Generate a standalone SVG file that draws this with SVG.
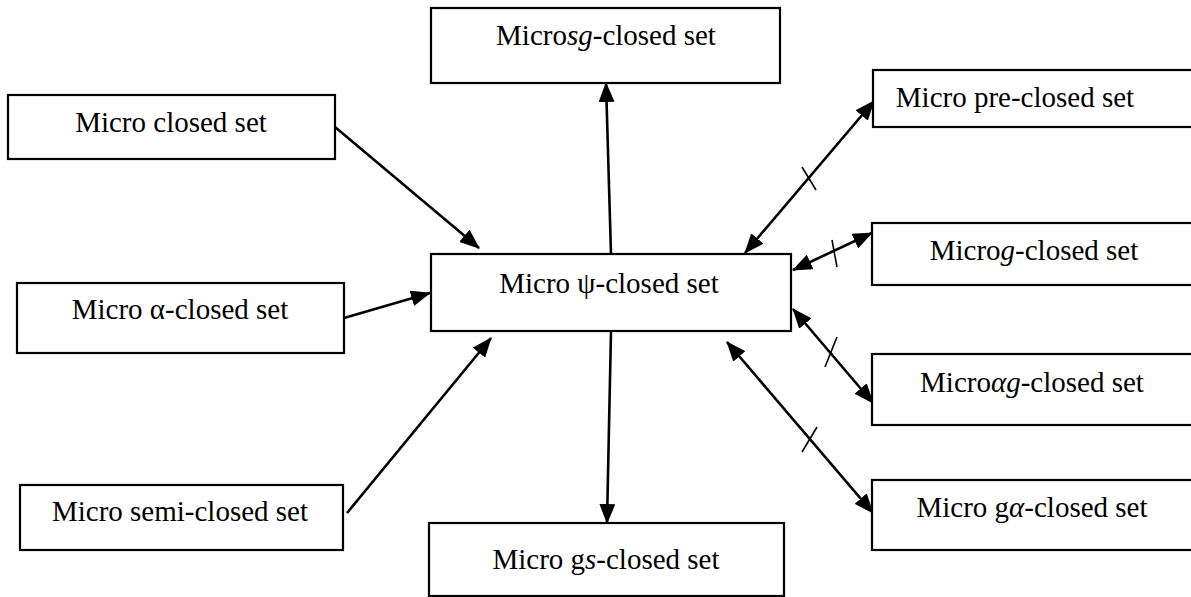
<svg xmlns="http://www.w3.org/2000/svg" width="1191" height="597" viewBox="0 0 1191 597">
<style>
.box{fill:#fff;stroke:#000;stroke-width:2.2}
.t{font-family:'Liberation Serif','Tinos','DejaVu Serif','Noto Serif',serif;font-size:29px;fill:#000;text-anchor:middle}
.m{font-style:italic}
.c{stroke:#000;stroke-width:2.6;fill:none}
.tick{stroke:#000;stroke-width:1.6;fill:none}
</style>
<defs>
<marker id="ah" markerUnits="userSpaceOnUse" markerWidth="20" markerHeight="16" refX="19" refY="8" orient="auto-start-reverse" viewBox="0 0 20 16">
<path d="M0,0 L20,8 L0,16 z" fill="#000"/>
</marker>
</defs>
<rect width="1191" height="597" fill="#fff"/>
<g id="connectors">
<line class="c" x1="335" y1="127" x2="479" y2="248" marker-end="url(#ah)"/>
<line class="c" x1="344" y1="318" x2="430" y2="293" marker-end="url(#ah)"/>
<line class="c" x1="347" y1="513" x2="491" y2="338" marker-end="url(#ah)"/>
<line class="c" x1="611" y1="254" x2="606" y2="83" marker-end="url(#ah)"/>
<line class="c" x1="611" y1="331" x2="607" y2="523" marker-end="url(#ah)"/>
<line class="c" x1="745" y1="253" x2="874" y2="101" marker-start="url(#ah)" marker-end="url(#ah)"/>
<line class="c" x1="793" y1="270" x2="872" y2="233" marker-start="url(#ah)" marker-end="url(#ah)"/>
<line class="c" x1="793" y1="309" x2="873" y2="403" marker-start="url(#ah)" marker-end="url(#ah)"/>
<line class="c" x1="727" y1="342" x2="873" y2="513" marker-start="url(#ah)" marker-end="url(#ah)"/>
<line class="tick" x1="802" y1="167" x2="816" y2="190"/>
<line class="tick" x1="832" y1="240" x2="837" y2="267"/>
<line class="tick" x1="837" y1="337" x2="825" y2="367"/>
<line class="tick" x1="817" y1="427" x2="802" y2="452"/>
</g>
<g id="n-sg">
<rect class="box" x="431" y="8" width="349" height="75"/>
<text class="t" font-family="Liberation Serif, serif" x="606" y="45">Micro<tspan class="m">sg</tspan>-closed set</text>
</g>
<g id="n-closed">
<rect class="box" x="8" y="95" width="327" height="64"/>
<text class="t" font-family="Liberation Serif, serif" x="171" y="132">Micro closed set</text>
</g>
<g id="n-psi">
<rect class="box" x="431" y="254" width="360" height="77"/>
<text class="t" font-family="Liberation Serif, serif" x="609" y="293">Micro ψ-closed set</text>
</g>
<g id="n-alpha">
<rect class="box" x="17" y="283" width="327" height="70"/>
<text class="t" font-family="Liberation Serif, serif" x="180" y="319">Micro α-closed set</text>
</g>
<g id="n-semi">
<rect class="box" x="20" y="485" width="323" height="65"/>
<text class="t" font-family="Liberation Serif, serif" x="180" y="521">Micro semi-closed set</text>
</g>
<g id="n-gs">
<rect class="box" x="429" y="523" width="355" height="73"/>
<text class="t" font-family="Liberation Serif, serif" x="606" y="569">Micro g<tspan class="m">s</tspan>-closed set</text>
</g>
<g id="n-pre">
<rect class="box" x="873" y="70" width="322" height="57"/>
<text class="t" font-family="Liberation Serif, serif" x="1015" y="107">Micro pre-closed set</text>
</g>
<g id="n-g">
<rect class="box" x="872" y="223" width="323" height="62"/>
<text class="t" font-family="Liberation Serif, serif" x="1034" y="260">Micro<tspan class="m">g</tspan>-closed set</text>
</g>
<g id="n-ag">
<rect class="box" x="872" y="354" width="323" height="71"/>
<text class="t" font-family="Liberation Serif, serif" x="1032" y="392">Micro<tspan class="m">αg</tspan>-closed set</text>
</g>
<g id="n-ga">
<rect class="box" x="872" y="480" width="323" height="70"/>
<text class="t" font-family="Liberation Serif, serif" x="1032" y="517">Micro g<tspan class="m">α</tspan>-closed set</text>
</g>
</svg>
